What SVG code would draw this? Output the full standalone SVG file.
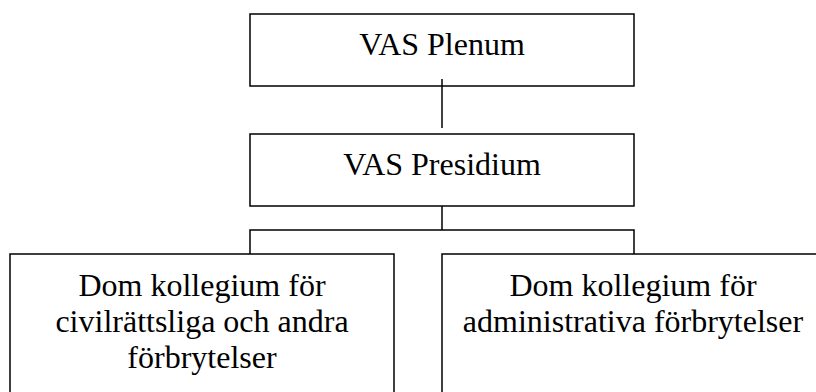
<svg xmlns="http://www.w3.org/2000/svg" width="816" height="392" viewBox="0 0 816 392">
<style>
.box{fill:#fff;stroke:#000;stroke-width:1.5}
.con{fill:none;stroke:#000;stroke-width:1.5}
.t{font-family:'Liberation Serif','DejaVu Serif',serif;font-size:32px;fill:#000;text-anchor:middle}
</style>
<rect width="816" height="392" fill="#fff"/>
<g id="plenum">
<rect class="box" x="250" y="14" width="384" height="72"/>
<text class="t" x="442" y="55">VAS Plenum</text>
</g>
<g id="presidium">
<rect class="box" x="250" y="134" width="384" height="72"/>
<text class="t" x="442" y="175">VAS Presidium</text>
</g>
<g id="civil">
<rect class="box" x="10" y="254" width="384" height="160"/>
<text class="t" x="202" y="296">Dom kollegium för</text>
<text class="t" x="202" y="332">civilrättsliga och andra</text>
<text class="t" x="202" y="368">förbrytelser</text>
</g>
<g id="admin">
<rect class="box" x="442" y="254" width="382" height="160"/>
<text class="t" x="633" y="296">Dom kollegium för</text>
<text class="t" x="633" y="332">administrativa förbrytelser</text>
</g>
<g id="connectors">
<path class="con" d="M442 79V128"/>
<path class="con" d="M442 206V230M250 254V230H634V254"/>
</g>
</svg>
